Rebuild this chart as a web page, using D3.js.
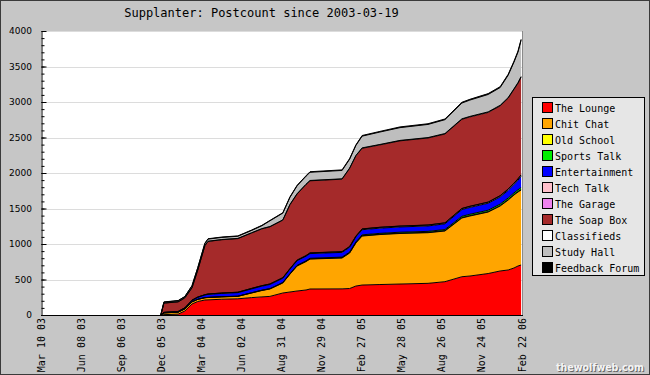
<!DOCTYPE html>
<html>
<head>
<meta charset="utf-8">
<script src="https://cdn.jsdelivr.net/npm/d3@7"></script>
<style>
  body { margin: 0; background: #c6c6c6; }
  svg { display: block; }
</style>
</head>
<body>
<svg id="chart" width="650" height="375"></svg>
<script>
// post counts per forum at each sample date
let dates = ["2003-12-04","2003-12-11","2004-01-12","2004-01-27","2004-02-12","2004-02-25","2004-03-12","2004-03-19",
  "2004-04-19","2004-05-25","2004-06-25","2004-07-18","2004-08-05","2004-09-03","2004-09-19","2004-10-05",
  "2004-10-25","2004-11-03","2005-01-14","2005-01-31","2005-02-14","2005-02-28","2005-04-09","2005-05-24",
  "2005-07-26","2005-09-02","2005-10-10","2005-10-28","2005-12-08","2006-01-04","2006-01-22","2006-02-04",
  "2006-02-13","2006-02-20"];

let lounge = [0,5,12,56,155,190,211,213,222,228,245,255,262,310,324,338,352,366,368,373,408,422,429,436,446,469,539,549,584,620,634,662,690,704];
let chitChat = [0,25,28,30,30,30,32,33,33,34,65,90,104,141,251,352,400,422,435,500,606,690,704,712,713,714,827,845,866,915,985,1028,1042,1056];
let oldSchool = [0,0,0,0,1,1,1,2,2,2,2,3,3,3,3,4,4,4,4,4,5,5,5,5,5,6,6,6,6,7,7,7,8,8];
let sportsTalk = [0,0,0,0,0,0,0,0,1,1,2,2,3,4,5,6,6,7,8,9,10,12,12,13,14,15,18,19,20,21,22,23,24,25];
let entertainment = [0,5,8,12,20,28,38,42,46,50,54,56,58,60,62,64,65,66,67,68,70,72,73,74,76,80,95,96,98,100,108,118,135,160];
let techTalk = [0,2,2,3,3,4,4,5,5,5,6,6,6,7,7,8,8,8,9,9,10,10,11,11,12,12,13,14,14,15,16,16,17,18];
let theGarage = [0,0,0,0,0,0,0,1,1,1,1,1,1,1,1,2,2,2,2,2,2,2,2,2,2,3,3,3,3,3,3,3,3,3];
let soapBox = [0,130,135,140,172,380,690,740,750,755,780,800,805,810,900,930,1000,1015,1020,1100,1130,1135,1160,1200,1225,1250,1255,1258,1262,1265,1280,1320,1345,1375];
let classifieds = [0,2,2,2,3,3,3,3,3,3,4,4,4,4,4,5,5,5,5,5,6,6,6,6,6,7,7,7,8,8,8,9,9,10];
let studyHall = [0,12,14,15,25,28,28,30,30,30,32,40,80,95,100,110,112,115,118,125,140,165,175,180,185,195,222,230,245,250,315,375,430,510];
let feedbackForum = [0,3,3,3,4,4,5,5,5,5,6,6,6,6,7,7,7,8,8,8,9,9,9,10,10,10,11,11,12,12,13,13,14,14];

let forumNames = ["The Lounge","Chit Chat","Old School","Sports Talk","Entertainment","Tech Talk",
  "The Garage","The Soap Box","Classifieds","Study Hall","Feedback Forum"];
let forumColors = ["#ff0000","#ffa500","#ffff00","#00ee00","#0000ff","#ffc0cb",
  "#ee82ee","#a52a2a","#ffffff","#bebebe","#000000"];

let yTicks = [0,500,1000,1500,2000,2500,3000,3500,4000];
let xTicks = ["2003-03-10","2003-06-08","2003-09-06","2003-12-05","2004-03-04","2004-06-02","2004-08-31",
  "2004-11-29","2005-02-27","2005-05-28","2005-08-26","2005-11-24","2006-02-22"];

let title = "Supplanter: Postcount since 2003-03-19";

var drawChart = function() {
  let svg = d3.select("#chart");
  let margin = { top: 31, right: 128, bottom: 60, left: 41 };
  let plotWidth = 650 - margin.left - margin.right;
  let plotHeight = 375 - margin.top - margin.bottom;
  let parse = d3.utcParse("%Y-%m-%d");
  let fmt = d3.utcFormat("%b %d %y");

  let series = [lounge, chitChat, oldSchool, sportsTalk, entertainment, techTalk,
    theGarage, soapBox, classifieds, studyHall, feedbackForum];

  let rows = dates.map(function(d, i) {
    let row = { date: parse(d) };
    forumNames.forEach(function(name, k) { row[name] = series[k][i]; });
    return row;
  });

  // background + frame
  svg.append("rect").attr("x", 0.5).attr("y", 0.5).attr("width", 649).attr("height", 374)
    .attr("fill", "#c6c6c6").attr("stroke", "#3a3a3a");

  svg.append("text")
    .attr("x", 261.5).attr("y", 16.5)
    .attr("text-anchor", "middle")
    .style("font-family", "DejaVu Sans Mono")
    .style("font-size", "12px")
    .text(title);

  let x = d3.scaleUtc()
    .domain([parse(xTicks[0]), parse(xTicks[xTicks.length - 1])])
    .range([0, plotWidth]);

  let y = d3.scaleLinear()
    .domain([0, 4000])
    .range([plotHeight, 0]);

  let plot = svg.append("g").attr("id", "plot")
    .attr("transform", "translate(" + margin.left + "," + margin.top + ")");

  plot.append("rect").attr("width", plotWidth).attr("height", plotHeight).attr("fill", "#ffffff");

  plot.selectAll("line.grid")
    .data(yTicks.slice(1))
    .enter().append("line")
    .attr("class", "grid")
    .attr("x1", 0).attr("x2", plotWidth)
    .attr("y1", function(d) { return Math.round(y(d)) + 0.5; })
    .attr("y2", function(d) { return Math.round(y(d)) + 0.5; })
    .attr("stroke", "#dcdcdc");

  let stacked = d3.stack().keys(forumNames)(rows);

  let area = d3.area()
    .x(function(d) { return x(d.data.date); })
    .y0(function(d) { return y(d[0]); })
    .y1(function(d) { return y(d[1]); });

  let topLine = d3.line()
    .x(function(d) { return x(d.data.date); })
    .y(function(d) { return y(d[1]); });

  plot.selectAll("path.layer")
    .data(stacked)
    .enter().append("path")
    .attr("class", "layer")
    .attr("d", area)
    .attr("fill", function(d, i) { return forumColors[i]; });

  plot.selectAll("path.edge")
    .data(stacked)
    .enter().append("path")
    .attr("class", "edge")
    .attr("d", topLine)
    .attr("fill", "none")
    .attr("stroke", "#000")
    .attr("stroke-width", 1);

  // right frame edge
  plot.append("line")
    .attr("x1", plotWidth + 0.5).attr("x2", plotWidth + 0.5)
    .attr("y1", 0).attr("y2", plotHeight)
    .attr("stroke", "#8a8a8a");

  // y axis: minor + major ticks inside, labels on the left
  let minor = d3.range(0, 4001, 100);
  let yMinor = d3.axisRight(y).tickValues(minor).tickSize(3).tickSizeOuter(0).tickFormat("");
  let yMajor = d3.axisRight(y).tickValues(yTicks).tickSize(5).tickSizeOuter(0).tickFormat("");
  let yLabels = d3.axisLeft(y).tickValues(yTicks).tickSize(0).tickPadding(9).tickFormat(d3.format("d"));

  let yg1 = plot.append("g").attr("transform", "translate(0.5,0)").call(yMinor);
  let yg2 = plot.append("g").attr("transform", "translate(0.5,0)").call(yMajor);
  yg2.select(".domain").remove();
  let yg3 = plot.append("g").call(yLabels);
  yg3.select(".domain").remove();
  yg3.selectAll("text")
    .style("font-family", "DejaVu Sans")
    .style("font-size", "9px")
    .attr("fill", "#000");
  [yg1, yg2].forEach(function(g) { g.selectAll("line").attr("stroke", "#000"); g.select(".domain").attr("stroke", "#000"); });

  // x axis
  plot.append("line")
    .attr("x1", 0).attr("x2", plotWidth + 1)
    .attr("y1", plotHeight + 0.5).attr("y2", plotHeight + 0.5)
    .attr("stroke", "#000");

  plot.selectAll("text.xlab")
    .data(xTicks)
    .enter().append("text")
    .attr("class", "xlab")
    .attr("transform", function(d) {
      return "translate(" + x(parse(d)) + "," + (plotHeight + 3) + ") rotate(-90)";
    })
    .attr("text-anchor", "end")
    .attr("dominant-baseline", "central")
    .style("font-family", "DejaVu Sans Mono")
    .style("font-size", "10px")
    .text(function(d) { return fmt(parse(d)); });

  // legend
  let legend = svg.append("g").attr("transform", "translate(532,97)");
  legend.append("rect")
    .attr("x", 0.5).attr("y", 0.5).attr("width", 112).attr("height", 178)
    .attr("fill", "#e6e6e6").attr("stroke", "#000");

  let items = legend.selectAll("g.item")
    .data(forumNames)
    .enter().append("g")
    .attr("class", "item")
    .attr("transform", function(d, i) { return "translate(0," + (11 + i * 16) + ")"; });

  items.append("rect")
    .attr("x", 10.5).attr("y", -5.5).attr("width", 10).attr("height", 10)
    .attr("fill", function(d, i) { return forumColors[i]; })
    .attr("stroke", "#000");

  items.append("text")
    .attr("x", 23).attr("y", 0)
    .attr("dominant-baseline", "central")
    .style("font-family", "DejaVu Sans Mono")
    .style("font-size", "10px")
    .text(function(d) { return d; });

  // site watermark
  svg.append("text")
    .attr("x", 557).attr("y", 372)
    .attr("textLength", 88).attr("lengthAdjust", "spacingAndGlyphs")
    .style("font-family", "DejaVu Sans").style("font-weight", "bold").style("font-size", "10px")
    .attr("fill", "#666")
    .text("thewolfweb.com");
  svg.append("text")
    .attr("x", 556).attr("y", 371)
    .attr("textLength", 88).attr("lengthAdjust", "spacingAndGlyphs")
    .style("font-family", "DejaVu Sans").style("font-weight", "bold").style("font-size", "10px")
    .attr("fill", "#f4f4f4")
    .text("thewolfweb.com");
}

drawChart();
</script>
</body>
</html>
